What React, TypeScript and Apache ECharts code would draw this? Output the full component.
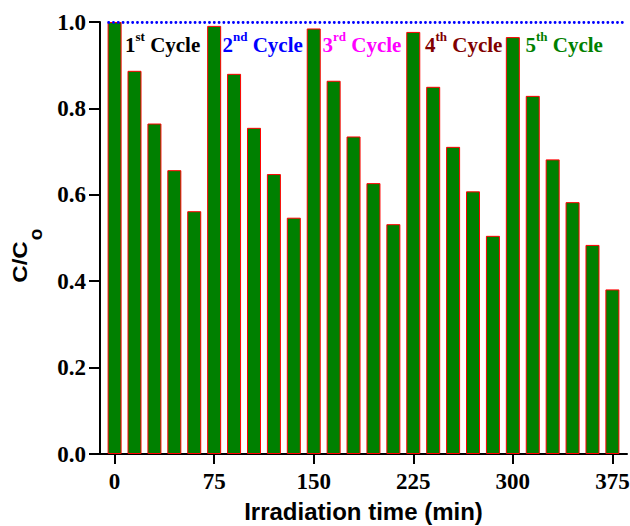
import React, { useEffect, useRef } from "react";
import * as echarts from "echarts";

const times = [0, 15, 30, 45, 60, 75, 90, 105, 120, 135, 150, 165, 180, 195, 210, 225, 240, 255, 270, 285, 300, 315, 330, 345, 360, 375];
const ratios = [1.0, 0.887, 0.765, 0.657, 0.562, 0.991, 0.88, 0.755, 0.648, 0.547, 0.985, 0.864, 0.735, 0.627, 0.532, 0.977, 0.85, 0.711, 0.608, 0.505, 0.965, 0.829, 0.682, 0.583, 0.484, 0.381];
const xTicks = [0, 75, 150, 225, 300, 375];
const refLevel = 1.0;
const cycleNums = ["1", "2", "3", "4", "5"];
const cycleSups = ["st", "nd", "rd", "th", "th"];
const cycleWord = "Cycle";
const cycleColors = ["#000000", "#0000ff", "#ff00ff", "#800000", "#008000"];
const xTitle = "Irradiation time (min)";
const yTitleMain = "C/C";
const yTitleSub = "o";

const SERIF = "'Liberation Serif', 'Times New Roman', serif";
const SANS = "'Liberation Sans', Arial, sans-serif";

export default function App() {
  const ref = useRef<HTMLDivElement>(null);
  useEffect(() => {
    if (!ref.current) return;
    const chart = echarts.init(ref.current, null, { renderer: "svg" });
    const cycleX = [125, 222.5, 322.5, 425, 525.5];
    const axisLS = { color: "#000", width: 2 };
    const cycleGraphics = cycleNums.map((n, i) => ({
      type: "text",
      x: cycleX[i],
      y: 30,
      style: {
        text: `{n|${n}}{s|${cycleSups[i]}}{c| ${cycleWord}}`,
        align: "left",
        verticalAlign: "top",
        fill: cycleColors[i],
        rich: {
          n: { fontFamily: SERIF, fontWeight: "bold", fontSize: 21, lineHeight: 30, fill: cycleColors[i] },
          s: { fontFamily: SERIF, fontWeight: "bold", fontSize: 13, verticalAlign: "top", fill: cycleColors[i] },
          c: { fontFamily: SERIF, fontWeight: "bold", fontSize: 21, lineHeight: 30, fill: cycleColors[i] },
        },
      },
      z: 100,
    }));
    const option: any = {
      animation: false,
      grid: { left: 100, right: 3, top: 22, bottom: 72, containLabel: false, outerBoundsMode: "none" },
      xAxis: {
        type: "value",
        min: -11,
        max: 386,
        axisLine: { show: true, lineStyle: axisLS },
        axisTick: { show: true, customValues: xTicks, length: 10, lineStyle: axisLS },
        axisLabel: {
          customValues: xTicks,
          fontFamily: SERIF,
          fontWeight: "bold",
          fontSize: 23,
          color: "#000",
          margin: 16,
        },
        splitLine: { show: false },
        name: xTitle,
        nameLocation: "middle",
        nameGap: 45,
        nameTextStyle: { fontFamily: SANS, fontWeight: "bold", fontSize: 24, color: "#000" },
      },
      yAxis: {
        type: "value",
        min: 0,
        max: 1,
        interval: 0.2,
        axisLine: { show: true, onZero: false, lineStyle: axisLS },
        axisTick: { show: true, length: 11, lineStyle: axisLS },
        axisLabel: {
          formatter: (v: number) => v.toFixed(1),
          fontFamily: SERIF,
          fontWeight: "bold",
          fontSize: 23,
          color: "#000",
          margin: 14,
        },
        splitLine: { show: false },
      },
      series: [
        {
          type: "bar",
          data: times.map((t, i) => [t, ratios[i]]),
          barWidth: 14,
          itemStyle: { color: "#008000", borderColor: "#ff0000", borderWidth: 1 },
          markLine: {
            silent: true,
            symbol: "none",
            label: { show: false },
            lineStyle: { color: "#0000ff", type: [0.1, 4.7], width: 2.8, cap: "round" },
            data: [[{ coord: [-4.5, refLevel] }, { coord: [386, refLevel] }]],
          },
        },
      ],
      graphic: [
        ...cycleGraphics,
        {
          type: "text",
          x: 20,
          y: 262,
          rotation: Math.PI / 2,
          scaleX: 1.2,
          style: {
            text: yTitleMain,
            fontFamily: SANS,
            fontWeight: "bold",
            fontSize: 20,
            fill: "#000",
            align: "center",
            verticalAlign: "middle",
          },
        },
        {
          type: "text",
          x: 35,
          y: 234.5,
          rotation: Math.PI / 2,
          style: {
            text: yTitleSub,
            fontFamily: SANS,
            fontWeight: "bold",
            fontSize: 19,
            fill: "#000",
            align: "center",
            verticalAlign: "middle",
          },
        },
      ],
    };
    chart.setOption(option);
    return () => chart.dispose();
  }, []);
  return (
    <div
      ref={ref}
      style={{ position: "absolute", left: 0, top: 0, width: 630, height: 526, background: "#fff" }}
    />
  );
}
